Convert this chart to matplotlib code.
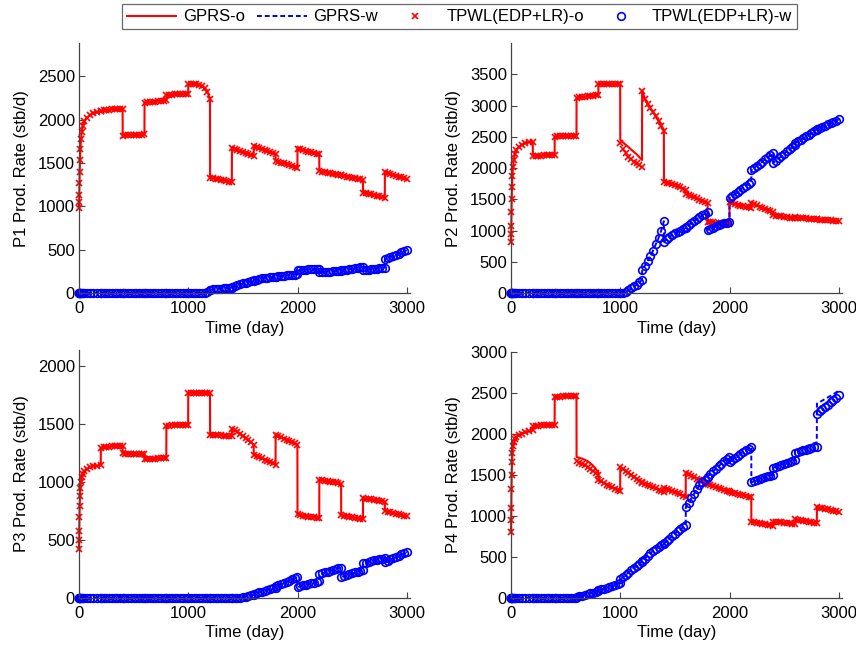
import matplotlib
matplotlib.use("Agg")
from matplotlib import pyplot as plt
from matplotlib.lines import Line2D

plt.rcParams['font.family'] = ['Liberation Sans', 'DejaVu Sans']

#--- Report times (days): start-up steps, then 9 reports per 200-day control period
days = [0, 1, 2, 4, 6, 9, 13, 18, 25, 35, 50, 70, 100, 130, 165, 199,
        200, 225, 250, 275, 300, 325, 350, 375, 399,
        400, 425, 450, 475, 500, 525, 550, 575, 599,
        600, 625, 650, 675, 700, 725, 750, 775, 799,
        800, 825, 850, 875, 900, 925, 950, 975, 999,
        1000, 1025, 1050, 1075, 1100, 1125, 1150, 1175, 1199,
        1200, 1225, 1250, 1275, 1300, 1325, 1350, 1375, 1399,
        1400, 1425, 1450, 1475, 1500, 1525, 1550, 1575, 1599,
        1600, 1625, 1650, 1675, 1700, 1725, 1750, 1775, 1799,
        1800, 1825, 1850, 1875, 1900, 1925, 1950, 1975, 1999,
        2000, 2025, 2050, 2075, 2100, 2125, 2150, 2175, 2199,
        2200, 2225, 2250, 2275, 2300, 2325, 2350, 2375, 2399,
        2400, 2425, 2450, 2475, 2500, 2525, 2550, 2575, 2599,
        2600, 2625, 2650, 2675, 2700, 2725, 2750, 2775, 2799,
        2800, 2825, 2850, 2875, 2900, 2925, 2950, 2975, 3000]

#--- P1 rates (stb/d)
p1_oil = [980, 1050, 1130, 1270, 1390, 1530, 1660, 1770, 1860, 1930, 1980, 2020, 2050, 2070, 2085, 2095,
          2100, 2106, 2110, 2114, 2117, 2120, 2122, 2124, 2125,
          1815, 1817, 1818, 1819, 1820, 1822, 1824, 1826, 1828,
          2195, 2198, 2200, 2203, 2206, 2209, 2212, 2216, 2220,
          2285, 2286, 2288, 2289, 2290, 2292, 2293, 2295, 2298,
          2410, 2412, 2410, 2406, 2400, 2385, 2360, 2320, 2240,
          1330, 1325, 1318, 1312, 1305, 1300, 1293, 1285, 1275,
          1670, 1657, 1645, 1632, 1620, 1610, 1600, 1590, 1580,
          1690, 1680, 1670, 1657, 1645, 1632, 1620, 1610, 1600,
          1525, 1512, 1502, 1493, 1484, 1475, 1465, 1455, 1445,
          1665, 1655, 1645, 1636, 1628, 1620, 1613, 1606, 1600,
          1405, 1399, 1393, 1387, 1381, 1375, 1369, 1363, 1357,
          1355, 1349, 1343, 1337, 1331, 1325, 1319, 1313, 1308,
          1155, 1149, 1142, 1136, 1128, 1120, 1113, 1105, 1095,
          1390, 1381, 1371, 1362, 1353, 1343, 1333, 1322, 1310]
p1_wat = [0, 0, 0, 0, 0, 0, 0, 0, 0, 0, 0, 0, 0, 0, 0, 0,
          0, 0, 0, 0, 0, 0, 0, 0, 0,
          0, 0, 0, 0, 0, 0, 0, 0, 0,
          0, 0, 0, 0, 0, 0, 0, 0, 0,
          0, 0, 0, 0, 0, 0, 0, 0, 0,
          0, 0, 0, 0, 0, 0, 5, 15, 30,
          40, 43, 46, 49, 52, 54, 56, 59, 62,
          70, 82, 93, 103, 112, 120, 127, 134, 140,
          145, 154, 162, 168, 173, 177, 181, 185, 188,
          190, 193, 196, 199, 202, 205, 208, 212, 215,
          260, 263, 266, 269, 272, 275, 277, 280, 282,
          240, 242, 244, 246, 248, 250, 253, 255, 258,
          260, 265, 270, 275, 280, 286, 292, 298, 305,
          262, 266, 270, 273, 277, 281, 285, 288, 292,
          390, 403, 416, 429, 442, 455, 468, 481, 495]

#--- P2 rates (stb/d)
p2_oil = [816, 950, 1080, 1300, 1500, 1700, 1880, 2020, 2130, 2220, 2290, 2340, 2375, 2400, 2415, 2425,
          2190, 2193, 2196, 2199, 2202, 2205, 2208, 2210, 2212,
          2505, 2507, 2508, 2510, 2511, 2512, 2514, 2515, 2517,
          3125, 3131, 3137, 3143, 3150, 3156, 3162, 3168, 3175,
          3345, 3345, 3345, 3345, 3344, 3343, 3342, 3341, 3339,
          2450, 2412, 2375, 2337, 2300, 2260, 2220, 2175, 2130,
          3240, 3110, 3030, 2960, 2900, 2830, 2760, 2680, 2600,
          1780, 1768, 1756, 1743, 1730, 1712, 1693, 1672, 1650,
          1590, 1572, 1553, 1535, 1516, 1497, 1478, 1459, 1440,
          1140, 1135, 1130, 1125, 1120, 1116, 1112, 1106, 1100,
          1450, 1438, 1425, 1413, 1400, 1390, 1380, 1370, 1360,
          1440, 1421, 1403, 1384, 1365, 1346, 1327, 1309, 1290,
          1250, 1241, 1233, 1226, 1220, 1213, 1207, 1201, 1195,
          1210, 1204, 1200, 1197, 1194, 1191, 1188, 1184, 1180,
          1180, 1177, 1173, 1170, 1167, 1163, 1159, 1153, 1145]
p2_oil_tpwl_1000 = [2400, 2300, 2235, 2180, 2140, 2105, 2075, 2045, 2020]
p2_wat = [0, 0, 0, 0, 0, 0, 0, 0, 0, 0, 0, 0, 0, 0, 0, 0,
          0, 0, 0, 0, 0, 0, 0, 0, 0,
          0, 0, 0, 0, 0, 0, 0, 0, 0,
          0, 0, 0, 0, 0, 0, 0, 0, 0,
          0, 0, 0, 0, 0, 0, 0, 0, 0,
          0, 8, 20, 45, 75, 105, 135, 170, 210,
          370, 440, 510, 590, 680, 780, 880, 1000, 1150,
          820, 865, 900, 930, 955, 978, 1000, 1020, 1040,
          1060, 1090, 1121, 1152, 1183, 1213, 1244, 1272, 1300,
          1010, 1029, 1048, 1066, 1084, 1100, 1114, 1127, 1140,
          1520, 1552, 1585, 1620, 1655, 1688, 1720, 1752, 1785,
          1970, 2004, 2037, 2071, 2105, 2139, 2173, 2207, 2240,
          2080, 2117, 2155, 2192, 2230, 2267, 2303, 2340, 2375,
          2400, 2428, 2455, 2483, 2510, 2537, 2563, 2590, 2615,
          2620, 2640, 2660, 2680, 2700, 2720, 2740, 2760, 2780]

#--- P3 rates (stb/d)
p3_oil = [420, 500, 580, 700, 790, 880, 950, 1000, 1040, 1070, 1095, 1110, 1125, 1135, 1140, 1145,
          1295, 1298, 1301, 1304, 1306, 1308, 1309, 1310, 1310,
          1245, 1244, 1243, 1242, 1241, 1240, 1240, 1239, 1238,
          1200, 1200, 1200, 1201, 1201, 1202, 1203, 1204, 1205,
          1485, 1486, 1487, 1488, 1489, 1490, 1491, 1492, 1493,
          1770, 1770, 1770, 1770, 1770, 1770, 1770, 1770, 1770,
          1405, 1404, 1402, 1401, 1400, 1398, 1397, 1396, 1395,
          1460, 1448, 1433, 1415, 1397, 1378, 1360, 1340, 1320,
          1230, 1220, 1211, 1202, 1193, 1184, 1174, 1163, 1150,
          1405, 1396, 1385, 1373, 1362, 1352, 1342, 1332, 1320,
          720, 715, 710, 706, 702, 698, 695, 691, 688,
          1020, 1015, 1010, 1006, 1002, 999, 996, 991, 985,
          712, 708, 703, 699, 694, 690, 686, 682, 678,
          860, 857, 853, 849, 845, 841, 837, 834, 830,
          750, 744, 739, 733, 727, 721, 715, 709, 703]
p3_wat = [0, 0, 0, 0, 0, 0, 0, 0, 0, 0, 0, 0, 0, 0, 0, 0,
          0, 0, 0, 0, 0, 0, 0, 0, 0,
          0, 0, 0, 0, 0, 0, 0, 0, 0,
          0, 0, 0, 0, 0, 0, 0, 0, 0,
          0, 0, 0, 0, 0, 0, 0, 0, 0,
          0, 0, 0, 0, 0, 0, 0, 0, 0,
          0, 0, 0, 0, 0, 0, 0, 0, 0,
          0, 0, 0, 2, 6, 11, 16, 23, 30,
          32, 40, 48, 55, 62, 69, 76, 83, 90,
          100, 109, 118, 128, 138, 149, 160, 170, 180,
          95, 101, 108, 114, 120, 126, 132, 139, 145,
          205, 213, 220, 228, 235, 242, 249, 256, 262,
          180, 188, 196, 204, 212, 220, 227, 235, 242,
          298, 304, 311, 317, 323, 329, 335, 340, 345,
          310, 321, 332, 343, 354, 365, 376, 387, 398]

#--- P4 rates (stb/d)
p4_oil = [800, 950, 1100, 1330, 1500, 1660, 1770, 1850, 1900, 1940, 1965, 1985, 2005, 2020, 2035, 2045,
          2095, 2098, 2101, 2104, 2106, 2108, 2110, 2111, 2112,
          2450, 2453, 2456, 2459, 2461, 2462, 2462, 2462, 2462,
          1720, 1710, 1700, 1685, 1670, 1645, 1615, 1575, 1530,
          1440, 1421, 1402, 1384, 1366, 1350, 1335, 1322, 1310,
          1595, 1573, 1550, 1525, 1500, 1478, 1455, 1432, 1410,
          1400, 1388, 1375, 1362, 1350, 1337, 1323, 1307, 1290,
          1340, 1328, 1316, 1303, 1290, 1277, 1263, 1249, 1235,
          1530, 1511, 1493, 1475, 1457, 1440, 1423, 1406, 1390,
          1390, 1378, 1365, 1352, 1340, 1330, 1320, 1310, 1300,
          1295, 1286, 1277, 1268, 1260, 1252, 1245, 1237, 1230,
          930, 924, 918, 911, 905, 899, 893, 886, 880,
          930, 927, 924, 921, 918, 914, 911, 908, 905,
          960, 954, 948, 941, 935, 929, 922, 916, 910,
          1105, 1099, 1092, 1086, 1080, 1073, 1066, 1057, 1045]
p4_oil_tpwl_600 = [1670, 1652, 1635, 1617, 1600, 1575, 1550, 1525, 1500]
p4_wat = [0, 0, 0, 0, 0, 0, 0, 0, 0, 0, 0, 0, 0, 0, 0, 0,
          0, 0, 0, 0, 0, 0, 0, 0, 0,
          0, 0, 0, 0, 0, 0, 1, 3, 5,
          12, 20, 29, 38, 47, 57, 66, 76, 85,
          95, 104, 114, 124, 136, 149, 161, 173, 185,
          230, 255, 282, 310, 340, 370, 395, 418, 440,
          450, 480, 512, 545, 575, 600, 622, 642, 660,
          670, 695, 722, 752, 782, 812, 838, 862, 885,
          1110, 1160, 1215, 1270, 1325, 1375, 1415, 1445, 1470,
          1480, 1511, 1543, 1575, 1607, 1638, 1670, 1697, 1720,
          1660, 1685, 1710, 1735, 1760, 1783, 1804, 1823, 1840,
          1410, 1423, 1435, 1448, 1460, 1472, 1482, 1492, 1500,
          1590, 1603, 1615, 1628, 1640, 1652, 1662, 1672, 1680,
          1800, 1813, 1825, 1838, 1850, 1863, 1875, 1888, 1900,
          2370, 2389, 2408, 2426, 2445, 2465, 2485, 2507, 2530]
p4_wat_tpwl_2600 = [1770, 1780, 1789, 1799, 1808, 1817, 1826, 1836, 1845,
                    2250, 2277, 2304, 2331, 2358, 2387, 2415, 2442, 2470]


def splice(values, start_day, segment):
    #--- replace the reports from start_day on with the reduced-model values
    out = list(values)
    i = days.index(start_day)
    out[i:i + len(segment)] = segment
    return out


p2_oil_tpwl = splice(p2_oil, 1000, p2_oil_tpwl_1000)
p4_oil_tpwl = splice(p4_oil, 600, p4_oil_tpwl_600)
p4_wat_tpwl = splice(p4_wat, 2600, p4_wat_tpwl_2600)

wells = [
    ("P1", p1_oil, p1_wat, p1_oil, p1_wat, 2880, [0, 500, 1000, 1500, 2000, 2500]),
    ("P2", p2_oil, p2_wat, p2_oil_tpwl, p2_wat, 4000, [0, 500, 1000, 1500, 2000, 2500, 3000, 3500]),
    ("P3", p3_oil, p3_wat, p3_oil, p3_wat, 2136, [0, 500, 1000, 1500, 2000]),
    ("P4", p4_oil, p4_wat, p4_oil_tpwl, p4_wat_tpwl, 3000, [0, 500, 1000, 1500, 2000, 2500, 3000]),
]

positions = [[0.0923, 0.5485, 0.3867, 0.385],
             [0.597, 0.5485, 0.3867, 0.385],
             [0.0923, 0.0786, 0.3867, 0.382],
             [0.597, 0.0786, 0.3867, 0.379]]

red = "#ff0000"
blue = "#0000ff"
fs = 12

fig = plt.figure(figsize=(8.56, 6.49), dpi=100)

for (name, oil, wat, oil_r, wat_r, ytop, yticks), pos in zip(wells, positions):
    ax = fig.add_axes(pos)
    ax.plot(days, oil, color=red, lw=1.5, clip_on=False)
    ax.plot(days, wat, color=blue, lw=1.4, ls="--", dashes=(2.5, 1.5), clip_on=False)
    ax.plot(days, oil_r, ls="none", marker="x", ms=4.5, mew=1.2, color=red, clip_on=False)
    ax.plot(days, wat_r, ls="none", marker="o", ms=5.5, mew=1.2, mfc="none", mec=blue, clip_on=False)

    ax.set_xlim(0, 3030)
    ax.set_ylim(0, ytop)
    ax.set_xticks([0, 1000, 2000, 3000])
    ax.set_yticks(yticks)
    for side in ["top", "right"]:
        ax.spines[side].set_visible(False)
    for side in ["left", "bottom"]:
        ax.spines[side].set_color("#444444")
        ax.spines[side].set_linewidth(0.9)
    ax.tick_params(direction="in", length=4, width=0.8, color="#444444", labelsize=fs)
    ax.tick_params(axis="x", pad=6)
    ax.tick_params(axis="y", pad=3)
    ax.set_xlabel("Time (day)", fontsize=fs, labelpad=3)
    ax.set_ylabel(f"{name} Prod. Rate (stb/d)", fontsize=fs, labelpad=6)

#--- Shared legend across the top
handles = [Line2D([], [], color=red, lw=1.5),
           Line2D([], [], color=blue, lw=1.4, ls="--", dashes=(2.5, 1.5)),
           Line2D([], [], ls="none", marker="x", ms=4.5, mew=1.2, color=red),
           Line2D([], [], ls="none", marker="o", ms=5.5, mew=1.2, mfc="none", mec=blue)]
labels = ["GPRS-o", "GPRS-w", "TPWL(EDP+LR)-o", "TPWL(EDP+LR)-w"]
leg = fig.legend(handles, labels, loc="upper center", bbox_to_anchor=(0.537, 1.006),
                 ncol=4, fontsize=fs, frameon=True, fancybox=False, edgecolor="#444444",
                 handlelength=2.95, handletextpad=0.4, columnspacing=0.75, borderpad=0.3)
leg.get_frame().set_linewidth(0.9)

fig.savefig("out.png", dpi=100)
